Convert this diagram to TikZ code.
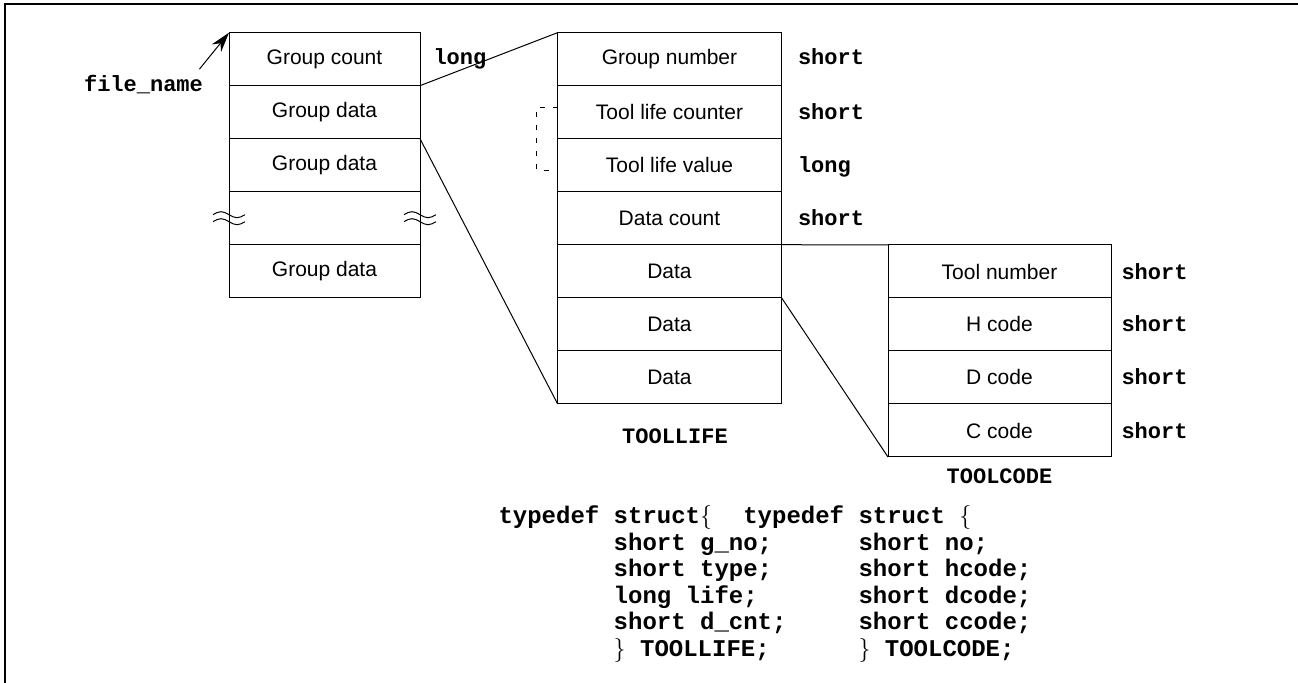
\documentclass[tikz,border=0pt]{standalone}
\usepackage{fontspec}
\setmainfont{Liberation Sans}
\setmonofont{Liberation Mono}
\usetikzlibrary{arrows.meta,positioning}

\tikzset{
  cell/.style={draw,minimum width=#1,minimum height=26.5pt,inner sep=0pt,outer sep=0pt,
    font=\fontsize{10.5pt}{12pt}\selectfont},
  typ/.style={font=\fontsize{11pt}{13pt}\selectfont\ttfamily\bfseries,inner sep=0pt,anchor=base west},
  code/.style={font=\fontsize{12pt}{14pt}\selectfont\ttfamily\bfseries,inner sep=0pt,anchor=base west}
}

\begin{document}
\begin{tikzpicture}[x=0.5pt,y=-0.5pt,line width=0.5pt]
  \useasboundingbox (0,0) rectangle (1298,683);
  \draw[line width=1pt] (5.2,683) -- (5.2,3.7) -- (1298,3.7);

  % file
  \node[cell=95.5pt] (gc) at (324.5,59.2) {Group count};
  \node[cell=95.5pt,below=0pt of gc] (gd1) {Group data};
  \node[cell=95.5pt,below=0pt of gd1] (gd2) {Group data};
  \node[cell=95.5pt,below=0pt of gd2] (gap) {};
  \node[cell=95.5pt,below=0pt of gap] (gd3) {Group data};
  \node[typ] (gc-typ) at ([xshift=6.5pt]gc.base east) {long};
  \foreach \e in {west,east}
    \foreach \s in {1.75pt,-1.75pt}
      \draw ([yshift=\s]gap.\e) ++(-16,0) sin ++(8,-3) cos ++(8,3) sin ++(8,3) cos ++(8,-3);

  \node[typ,anchor=center,inner sep=1pt] (fname) at (143.5,85) {file\_name};
  \draw[-{Stealth[length=10pt,width=6pt]}] ([xshift=-3pt,yshift=2pt]fname.north east) -- (gc.north west);

  % TOOLLIFE
  \node[cell=112pt] (gno) at (669.5,59.2) {Group number};
  \node[cell=112pt,below=0pt of gno] (tlc) {Tool life counter};
  \node[cell=112pt,below=0pt of tlc] (tlv) {Tool life value};
  \node[cell=112pt,below=0pt of tlv] (dcnt) {Data count};
  \node[cell=112pt,below=0pt of dcnt] (d1) {Data};
  \node[cell=112pt,below=0pt of d1] (d2) {Data};
  \node[cell=112pt,below=0pt of d2] (d3) {Data};
  \foreach \n/\t in {gno/short,tlc/short,tlv/long,dcnt/short}
    \node[typ] (\n-typ) at ([xshift=8pt]\n.base east) {\t};
  \node[typ,anchor=base] (tl-cap) at ([xshift=2.75pt,yshift=-20pt]d3.south) {TOOLLIFE};
  \draw[dash pattern=on 2.5pt off 4pt] ([yshift=2.5pt]tlc.west) -- ++(-21,0) |- ([yshift=-2.5pt]tlv.west);

  % TOOLCODE
  \node[cell=111.5pt] (tno) at (999.5,271.5) {Tool number};
  \node[cell=111.5pt,below=0pt of tno] (hc) {H code};
  \node[cell=111.5pt,below=0pt of hc] (dc) {D code};
  \node[cell=111.5pt,below=0pt of dc] (cc) {C code};
  \foreach \n in {tno,hc,dc,cc}
    \node[typ] (\n-typ) at ([xshift=5pt]\n.base east) {short};
  \node[typ,anchor=base] (tc-cap) at ([yshift=-13.5pt]cc.south) {TOOLCODE};

  % links
  \draw (gd1.north east) -- (gno.north west);
  \draw (gd2.north east) -- (d3.south west);
  \draw (d1.north east) -- (tno.north west);
  \draw (d2.north east) -- (cc.south west);

  % structs
  \node[code] (td-a) at (498,524) {typedef};
  \node[code] (td-b) at (742.8,524) {typedef};
  \foreach \t [count=\i] in {struct$\{$,short g\_no;,short type;,long life;,short d\_cnt;,$\}$ TOOLLIFE;}
    \node[code] (sa-\i) at (613.2,{524+26.5*(\i-1)}) {\t};
  \foreach \t [count=\i] in {struct $\{$,short no;,short hcode;,short dcode;,short ccode;,$\}$ TOOLCODE;}
    \node[code] (sb-\i) at (858,{524+26.5*(\i-1)}) {\t};
\end{tikzpicture}
\end{document}
